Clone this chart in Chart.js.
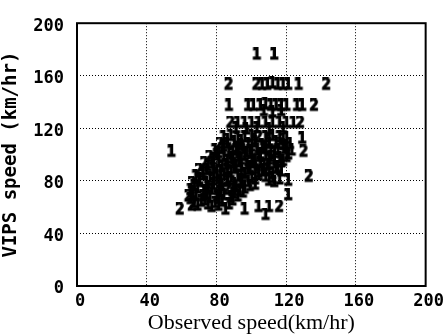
<!DOCTYPE html>
<html>
<head>
<meta charset="utf-8">
<script src="https://cdn.jsdelivr.net/npm/chart.js@4/dist/chart.umd.min.js"></script>
<style>
  html, body { margin: 0; padding: 0; background: #fff; }
  canvas { display: block; }
</style>
</head>
<body>
<canvas id="speedChart" width="446" height="335"></canvas>
<script>
// точки, помеченные "1" (observed, VIPS)
const ones = [
  [103,176],[113,176],
  [106,153],[109,153],[112,154],[115,153],[118,153],[121,153],[127,153],
  [87,137],[98,137],[101,137],[105,137],[108,138],[111,137],[114,137],[117,137],[120,137],[126,137],[129,137],
  [107,133],[112,132],[117,133],
  [92,124],[96,124],[100,124],[104,124],[108,124],[112,124],[116,124],[120,124],[124,124],
  [91,120],[97,119],[103,120],[110,119],[118,120],
  [54,102],[129,112],
  [84,113],[88,114],[92,112],[96,113],[100,114],[108,113],[112,114],[116,113],[120,112],
  [86,111],[94,110],[102,111],[110,110],[118,111],
  [86,108],[90,109],[94,107],[98,108],[102,109],[106,107],[110,108],[114,109],[118,107],[122,108],
  [84,106],[92,105],[100,106],[108,105],[120,106],
  [79,103],[83,104],[87,102],[91,103],[95,104],[99,102],[103,103],[107,104],[111,102],[115,103],[119,104],[123,103],
  [81,101],[89,100],[97,101],[105,100],[113,101],[121,100],
  [80,99],[84,98],[88,97],[92,98],[96,99],[100,97],[104,98],[108,99],[116,97],[120,98],
  [78,96],[86,95],[94,96],[102,95],[110,96],[118,95],
  [77,93],[81,94],[85,92],[89,93],[93,94],[97,92],[101,94],[105,93],[109,92],[113,93],[117,94],
  [75,91],[83,90],[91,91],[99,90],[107,91],[115,90],
  [74,88],[78,89],[82,87],[86,88],[90,89],[94,87],[98,88],[102,89],[106,87],[110,88],[114,89],[117,87],
  [72,86],[80,85],[88,86],[96,85],[104,86],[112,85],
  [68,83],[72,84],[76,82],[80,83],[84,84],[88,82],[92,83],[100,82],[104,84],[108,83],[112,82],
  [70,81],[78,80],[86,81],[94,80],[102,81],[110,80],[116,81],
  [70,79],[74,78],[78,77],[82,78],[86,79],[90,77],[94,78],[98,79],[102,77],
  [67,76],[75,75],[83,76],[91,75],[99,76],
  [65,73],[69,74],[73,72],[77,73],[81,74],[89,73],[93,72],[96,74],
  [66,71],[74,70],[82,71],[90,70],[95,71],
  [68,69],[72,68],[76,67],[80,68],[84,69],[88,67],[92,68],
  [65,66],[73,65],[81,66],[89,65],
  [67,63],[71,64],[75,62],[79,63],[83,64],[87,62],
  [69,61],[77,60],[81,61],
  [113,79],[121,80],[121,69],
  [85,58],[96,58],[104,60],[110,60],[108,54]
];

// точки, помеченные "2"
const twos = [
  [87,153],[103,153],[143,153],
  [136,137],[88,124],[128,124],
  [130,102],[133,83],
  [104,113],[82,108],[116,108],[92,103],[76,98],[112,98],
  [73,93],[70,88],[100,93],[108,88],[95,83],[66,78],[86,73],[64,68],
  [59,58],[116,60],[66,61]
];

const xTicks = [0, 40, 80, 120, 160, 200];
const yTicks = [0, 40, 80, 120, 160, 200];

// глиф-маркер из символа
function makeGlyph(ch) {
  const c = document.createElement('canvas');
  c.width = 12; c.height = 15;
  const g = c.getContext('2d');
  g.fillStyle = '#000';
  g.strokeStyle = '#000';
  g.lineWidth = 1.2;
  g.font = 'bold 15px "DejaVu Sans Mono"';
  g.textAlign = 'center';
  g.textBaseline = 'middle';
  g.fillText(ch, 6, 8);
  g.strokeText(ch, 6, 8);
  return c;
}

const toPoints = arr => arr.map(([x, y]) => ({ x, y }));

// рамка вокруг области графика
const framePlugin = {
  id: 'frame',
  afterDraw(chart) {
    const { ctx, chartArea: a } = chart;
    ctx.save();
    ctx.strokeStyle = '#000';
    ctx.lineWidth = 2;
    ctx.strokeRect(a.left, a.top, a.right - a.left, a.bottom - a.top);
    ctx.restore();
  }
};

const tickFont = { family: '"DejaVu Sans Mono"', size: 17, weight: 'bold' };

new Chart(document.getElementById('speedChart'), {
  type: 'scatter',
  data: {
    datasets: [
      { label: '1', data: toPoints(ones), pointStyle: makeGlyph('1') },
      { label: '2', data: toPoints(twos), pointStyle: makeGlyph('2') }
    ]
  },
  options: {
    responsive: false,
    animation: false,
    events: [],
    layout: { padding: { top: 11, right: 18, left: 0, bottom: 0 } },
    plugins: {
      legend: { display: false },
      tooltip: { enabled: false }
    },
    scales: {
      x: {
        type: 'linear',
        min: 0, max: 200,
        afterFit: s => { s.height = 49; },
        afterBuildTicks: s => { s.ticks = xTicks.map(v => ({ value: v })); },
        ticks: { color: '#000', font: tickFont, padding: 5, labelOffset: 3, maxRotation: 0 },
        grid: { color: '#000', lineWidth: 1, drawTicks: false },
        border: { display: false, dash: [1, 2] },
        title: {
          display: true,
          text: 'Observed speed(km/hr)',
          color: '#000',
          font: { family: '"Liberation Serif"', size: 22, lineHeight: 1.1 },
          padding: { top: 0, bottom: 0 }
        }
      },
      y: {
        type: 'linear',
        min: 0, max: 200,
        afterFit: s => { s.width = 77; },
        afterBuildTicks: s => { s.ticks = yTicks.map(v => ({ value: v })); },
        ticks: { color: '#000', font: tickFont, padding: 13, labelOffset: 3 },
        grid: { color: '#000', lineWidth: 1, drawTicks: false },
        border: { display: false, dash: [1, 2] },
        title: {
          display: true,
          text: 'VIPS speed (km/hr)',
          color: '#000',
          font: { family: '"DejaVu Sans Mono"', size: 19, weight: 'bold', lineHeight: 1.1 },
          padding: { top: 1, bottom: 0 }
        }
      }
    }
  },
  plugins: [framePlugin]
});
</script>
</body>
</html>
